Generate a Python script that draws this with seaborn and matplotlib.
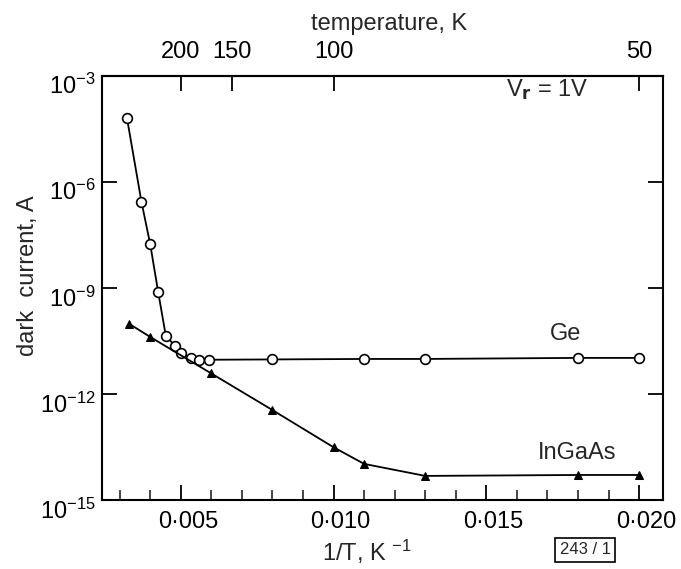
import numpy as np
import matplotlib
matplotlib.use("Agg")
import matplotlib.pyplot as plt
import matplotlib.transforms as mtransforms
from matplotlib.ticker import MultipleLocator, NullLocator
import seaborn as sns

# Ge photodiode: 1/T (K^-1) and dark current (A)
ge_inv_t = [0.00324, 0.00371, 0.0040, 0.00426, 0.00451, 0.00481, 0.00501, 0.00533,
            0.00561, 0.00592, 0.0080, 0.0110, 0.0130, 0.0180, 0.0200]
ge_current = [6.3e-5, 2.8e-7, 1.7e-8, 7.6e-10, 4.4e-11, 2.3e-11, 1.4e-11, 1.05e-11,
              9.3e-12, 9.3e-12, 9.5e-12, 9.8e-12, 9.8e-12, 1.05e-11, 1.05e-11]

# InGaAs photodiode
ingaas_inv_t = [0.0033, 0.0040, 0.0060, 0.0080, 0.0100, 0.0110, 0.0130, 0.0180, 0.0200]
ingaas_current = [9.8e-11, 4.1e-11, 3.8e-12, 3.5e-13, 3.1e-14, 1.05e-14, 4.8e-15,
                  5.1e-15, 5.1e-15]

# tick values / labels
x_major = [0.005, 0.010, 0.015, 0.020]
x_major_labels = ['0·005', '0·010', '0·015', '0·020']
y_major = [1e-3, 1e-6, 1e-9, 1e-12, 1e-15]
y_major_labels = ['$10^{-3}$', '$10^{-6}$', '$10^{-9}$', '$10^{-12}$', '$10^{-15}$']
temp_ticks = [200, 150, 100, 50]
temp_labels = ['200', '150', '100', '50']

sns.set_theme(style='ticks')
plt.rcParams['font.family'] = ['Liberation Sans', 'DejaVu Sans']
plt.rcParams['mathtext.default'] = 'regular'
plt.rcParams['axes.edgecolor'] = 'black'
plt.rcParams['axes.linewidth'] = 1.5

FS = 17

fig = plt.figure(figsize=(6.81, 5.69), dpi=100)
ax = fig.add_axes([0.1502, 0.1213, 0.8238, 0.7452])
ax.set_yscale('log')

# Ge curve: open circles
sns.lineplot(x=ge_inv_t, y=ge_current, ax=ax, color='black', linewidth=1.3,
             marker='o', markersize=7, markerfacecolor='white',
             markeredgecolor='black', markeredgewidth=1.2,
             estimator=None, sort=False)

# InGaAs curve: small filled triangles
sns.lineplot(x=ingaas_inv_t, y=ingaas_current, ax=ax, color='black', linewidth=1.3,
             marker='^', markersize=5.5, markerfacecolor='black',
             markeredgecolor='black', estimator=None, sort=False)

ax.set_xlim(0.00243, 0.02079)
ax.set_ylim(1e-15, 1e-3)

ax.set_xticks(x_major)
ax.set_xticklabels(x_major_labels)
ax.xaxis.set_minor_locator(MultipleLocator(0.001))
ax.set_yticks(y_major)
ax.set_yticklabels(y_major_labels)
ax.yaxis.set_minor_locator(NullLocator())

ax.tick_params(axis='both', which='major', direction='in', length=11, width=1.3,
               labelsize=FS, colors='black')
ax.tick_params(axis='x', which='minor', direction='in', length=7, width=1.2)
ax.tick_params(axis='x', which='both', bottom=True, top=False, pad=8)
ax.tick_params(axis='y', which='both', left=True, right=True, pad=5)

# nudge tick labels like in the original drawing
for lab in ax.get_yticklabels():
    lab.set_transform(lab.get_transform() +
                      mtransforms.ScaledTranslation(0, -6 / 72, fig.dpi_scale_trans))
for lab in ax.get_xticklabels():
    lab.set_transform(lab.get_transform() +
                      mtransforms.ScaledTranslation(5 / 72, 0, fig.dpi_scale_trans))

for side in ['left', 'right', 'top', 'bottom']:
    ax.spines[side].set_visible(True)
    ax.spines[side].set_linewidth(1.5)
    ax.spines[side].set_color('black')


# top axis: temperature in K
def inv(v):
    v = np.asarray(v, dtype=float)
    with np.errstate(divide='ignore', invalid='ignore'):
        return 1.0 / v


sec = ax.secondary_xaxis('top', functions=(inv, inv))
sec.set_xticks(temp_ticks)
sec.set_xticklabels(temp_labels)
sec.xaxis.set_minor_locator(NullLocator())
sec.tick_params(direction='in', length=11, width=1.3, labelsize=FS, pad=9, colors='black')
sec.spines['top'].set_linewidth(1.5)
fig.text(389 / 681, 1 - 24 / 569, 'temperature, K', fontsize=FS, ha='center', va='center')

# axis labels
ax.set_xlabel('1/T, K $^{-1}$', fontsize=FS)
ax.xaxis.label.set_va('center')
ax.xaxis.set_label_coords(0.472, -0.1227)
ax.set_ylabel('dark  current, A', fontsize=FS)
ax.yaxis.label.set_va('center')
ax.yaxis.set_label_coords(-0.1324, 0.528)

# annotations
ax.text(0.0176, 5.1e-11, 'Ge', fontsize=FS, ha='center', va='center')
ax.text(0.01796, 2.2e-14, 'InGaAs', fontsize=FS, ha='center', va='center')
ax.text(0.01698, 4.0e-4, '$V_{\\mathbf{r}}$ = 1V', fontsize=FS, ha='center', va='center')

fig.text(585 / 681, 1 - 550 / 569, '243 / 1', fontsize=12, ha='center', va='center',
         bbox=dict(boxstyle='square,pad=0.25', fc='white', ec='black', lw=1.2))

fig.savefig('out.png', dpi=100)
